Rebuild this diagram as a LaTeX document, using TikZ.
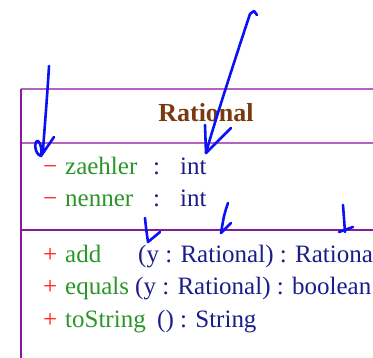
\documentclass[tikz,border=0pt]{standalone}
\usepackage{fontspec}
\setmainfont{Liberation Serif}

\definecolor{umllight}{HTML}{B462C4}
\definecolor{umldark}{HTML}{8A1A9C}
\definecolor{vis}{HTML}{FF1A1A}
\definecolor{member}{HTML}{2A962A}
\definecolor{typ}{HTML}{1C1C8A}
\definecolor{classname}{HTML}{7A3A10}
\definecolor{pen}{HTML}{0A12F5}

\tikzset{
  txt/.style={inner sep=0pt, anchor=base west, font=\fontsize{25}{30}\selectfont},
  vissym/.style={txt, text=vis},
  membername/.style={txt, text=member},
  typename/.style={txt, text=typ},
  ink/.style={pen, line width=2.6pt, line cap=round, line join=round}
}

\begin{document}
\begin{tikzpicture}[x=1pt, y=-1pt]
  \useasboundingbox (0,0) rectangle (373,358);

  % Box
  \draw[umllight, line width=1.3pt] (21,89) -- (373,89);
  \draw[umllight, line width=1.3pt] (21,143) -- (373,143);
  \draw[umldark, line width=1.3pt] (21,230) -- (373,230);
  \draw[umldark, line width=1.3pt] (21,89) -- (21,358);

  % Name
  \node[inner sep=0pt, anchor=base, text=classname, font=\fontsize{26}{30}\selectfont\bfseries] (cls) at (206,122) {Rational};

  % Attributes
  \node[vissym] (za-vis) at (43,175) {−};
  \node[membername] (za-name) at (65,175) {zaehler};
  \node[typename] (za-colon) at (153,175) {:};
  \node[typename] (za-type) at (180,175) {int};
  \node[vissym] (ne-vis) at (43,207) {−};
  \node[membername] (ne-name) at (65,207) {nenner};
  \node[typename] (ne-colon) at (153,207) {:};
  \node[typename] (ne-type) at (180,207) {int};

  % Methods
  \node[vissym] (add-vis) at (43,263) {+};
  \node[membername] (add-name) at (65,263) {add};
  \node[typename] (add-sig) at (138,263) {(y : Rational) : Rational};
  \node[vissym] (eq-vis) at (43,295) {+};
  \node[membername] (eq-name) at (65,295) {equals};
  \node[typename] (eq-sig) at (135,295) {(y : Rational) : boolean};
  \node[vissym] (ts-vis) at (43,328) {+};
  \node[membername] (ts-name) at (65,328) {toString};
  \node[typename] (ts-sig) at (157,328) {() : String};

  % Pen marks
  \coordinate (tip-vis) at (41,156);
  \coordinate (tip-type) at (206,153);
  \coordinate (tip-par) at (148,242);
  \coordinate (tip-ptype) at (221,233);
  \coordinate (tip-ret) at (345,232);

  \draw[ink] (49,66) .. controls (47,100) and (44,135) .. (43,150)
    .. controls (42,154) .. (tip-vis)
    .. controls (34,154) and (34,140) .. (38,141)
    .. controls (41,143) and (42,150) .. (tip-vis) -- (54,137);
  \draw[ink] (257,15) -- (254,11) -- (250,14)
    .. controls (243,35) and (215,120) .. (tip-type);
  \draw[ink] (205,125) -- (tip-type) -- (231,128);
  \draw[ink] (145,218) .. controls (146,228) .. (tip-par) -- (160,232);
  \draw[ink] (228,203) .. controls (224,215) .. (tip-ptype) -- (231,223);
  \draw[ink] (343,205) .. controls (344,218) .. (tip-ret);
  \draw[ink] (339,232) -- (353,227);
\end{tikzpicture}
\end{document}
